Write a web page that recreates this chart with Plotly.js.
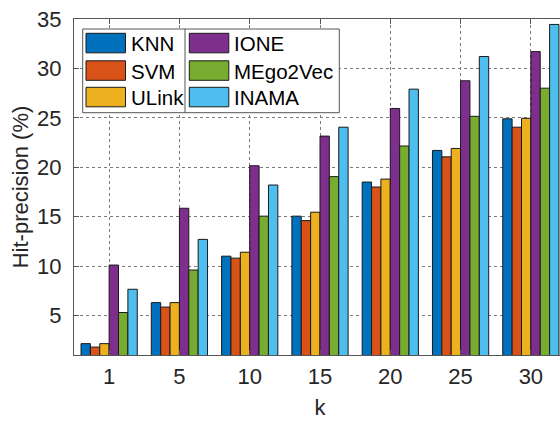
<!DOCTYPE html>
<html>
<head>
<meta charset="utf-8">
<script src="https://cdn.plot.ly/plotly-3.0.1.min.js"></script>
<style>
html, body { margin: 0; padding: 0; overflow: hidden; background: #fff; }
#chart { width: 620px; height: 421px; }
</style>
</head>
<body>
<div id="chart"></div>
<script>
// ---- data ----
const kLabels = ['1', '5', '10', '15', '20', '25', '30'];
const seriesNames = ['KNN', 'SVM', 'ULink', 'IONE', 'MEgo2Vec', 'INAMA'];
const knn   = [2.15, 6.3, 11.0, 15.05, 18.5, 21.7, 24.9];
const svm   = [1.8, 5.85, 10.8, 14.6, 18.0, 21.05, 24.05];
const ulink = [2.15, 6.3, 11.4, 15.45, 18.8, 21.9, 24.95];
const ione  = [10.1, 15.85, 20.15, 23.15, 25.95, 28.75, 31.7];
const mego  = [5.3, 9.6, 15.05, 19.05, 22.15, 25.15, 28.0];
const inama = [7.65, 12.7, 18.2, 24.05, 27.9, 31.2, 34.45];
const seriesValues = [knn, svm, ulink, ione, mego, inama];
const seriesColors = ['#0072BD', '#D95319', '#EDB120', '#7E2F8E', '#77AC30', '#4DBEEE'];

// ---- layout geometry (pixels) ----
const W = 620, H = 421;
const mL = 74, mR = W - 566, mT = 19, mB = H - 355;
const plotW = W - mL - mR, plotH = H - mT - mB;
const px = x => (x - mL) / plotW;
const py = y => (H - mB - y) / plotH;

const FONT = 'Liberation Sans, Arial, Helvetica, sans-serif';
const TXT = '#262626';

const traces = seriesNames.map((name, i) => ({
  type: 'bar',
  name: name,
  x: kLabels,
  y: seriesValues[i],
  marker: { color: seriesColors[i], line: { color: '#1a1a1a', width: 1 } },
  showlegend: false,
  hoverinfo: 'x+y+name'
}));

// manual two-column legend (MATLAB style)
const shapes = [];
const annotations = [];
const box = { x0: 82.7, x1: 339.3, y0: 29, y1: 112.7, div: 185 };
shapes.push({ type: 'rect', xref: 'paper', yref: 'paper', layer: 'above',
  x0: px(box.x0), x1: px(box.x1), y0: py(box.y1), y1: py(box.y0),
  fillcolor: '#ffffff', line: { color: '#555555', width: 1 } });
shapes.push({ type: 'line', xref: 'paper', yref: 'paper', layer: 'above',
  x0: px(box.div), x1: px(box.div), y0: py(box.y1), y1: py(box.y0),
  line: { color: '#555555', width: 1 } });
const colSwatchX = [86, 189.3];
const swatchW = 39.5, swatchH = 19.5;
const rowTop = [33.3, 60.8, 87.3];
const textX = [129.3, 232.3];
seriesNames.forEach((name, i) => {
  const c = i < 3 ? 0 : 1, r = i % 3;
  shapes.push({ type: 'rect', xref: 'paper', yref: 'paper', layer: 'above',
    x0: px(colSwatchX[c]), x1: px(colSwatchX[c] + swatchW),
    y0: py(rowTop[r] + swatchH), y1: py(rowTop[r]),
    fillcolor: seriesColors[i], line: { color: '#1a1a1a', width: 1 } });
  annotations.push({ xref: 'paper', yref: 'paper', x: px(textX[c]), y: py(rowTop[r] + swatchH / 2 + 0.5),
    xanchor: 'left', yanchor: 'middle', showarrow: false, text: name,
    font: { family: FONT, size: 20.5, color: '#000000' } });
});

const layout = {
  width: W, height: H,
  margin: { l: mL, r: mR, t: mT, b: mB, pad: 0 },
  paper_bgcolor: '#ffffff', plot_bgcolor: '#ffffff',
  font: { family: FONT, color: TXT, size: 22 },
  barmode: 'group', bargap: 0.2, bargroupgap: 0,
  xaxis: {
    type: 'category', range: [-0.5, 6.5],
    title: { text: 'k', font: { family: FONT, size: 22, color: TXT }, standoff: 11 },
    showline: true, linecolor: '#555555', linewidth: 1, mirror: 'ticks',
    ticks: 'inside', ticklen: 5, tickcolor: '#555555',
    showgrid: true, gridcolor: '#7a7a7a', griddash: 'dot', gridwidth: 1,
    tickfont: { family: FONT, size: 22, color: TXT },
    ticklabelstandoff: 2,
    zeroline: false, fixedrange: true
  },
  yaxis: {
    range: [1, 35], tickvals: [5, 10, 15, 20, 25, 30, 35],
    title: { text: 'Hit-precision (%)', font: { family: FONT, size: 22, color: TXT }, standoff: 2 },
    showline: true, linecolor: '#555555', linewidth: 1, mirror: 'ticks',
    ticks: 'inside', ticklen: 5, tickcolor: '#555555',
    showgrid: true, gridcolor: '#7a7a7a', griddash: 'dot', gridwidth: 1,
    tickfont: { family: FONT, size: 22, color: TXT },
    ticklabelstandoff: 7,
    zeroline: false, fixedrange: true
  },
  shapes: shapes,
  annotations: annotations,
  showlegend: false
};

Plotly.newPlot('chart', traces, layout, { displayModeBar: false, staticPlot: true });
</script>
</body>
</html>
